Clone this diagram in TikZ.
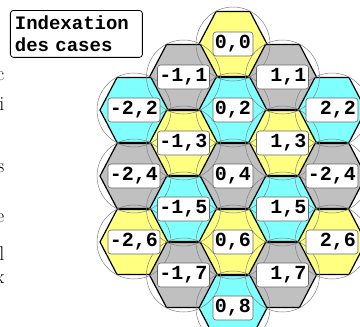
\documentclass[tikz,border=0pt]{standalone}
\usepackage{fontspec}
\setmonofont{Liberation Mono}
\definecolor{cellyellow}{RGB}{255,255,128}
\definecolor{cellcyan}{RGB}{128,255,255}
\definecolor{cellgray}{RGB}{192,192,192}

\begin{document}
\begin{tikzpicture}[x=1pt,y=-1pt]
        \tikzstyle{cell}=[draw=black, line width=1.2pt, line join=round]
        \tikzstyle{ring}=[draw=black!50, line width=0.5pt]
        \tikzstyle{tag}=[draw=black!60, fill=white, rounded corners=3pt, line width=0.6pt,
            font=\ttfamily\bfseries\fontsize{20}{22}\selectfont,
            inner xsep=2pt, inner ysep=1pt, minimum height=24pt]
        \tikzstyle{title}=[draw=black, fill=white, rounded corners=3pt, line width=0.8pt,
            align=left, text width=123pt, inner xsep=4.5pt, inner ysep=5.5pt,
            font=\ttfamily\bfseries\fontsize{19}{22}\selectfont]
        \tikzstyle{stray}=[anchor=base east, inner sep=0pt, font=\fontsize{20}{24}\selectfont]

        \useasboundingbox (0,0) rectangle (360,327);
        \clip (0,0) rectangle (360,327);

        \def\cells{0/0/cellyellow/{0,0}, -1/1/cellgray/{-1,1}, 1/1/cellgray/{\hphantom{-}1,1},
            -2/2/cellcyan/{-2,2}, 0/2/cellcyan/{0,2}, 2/2/cellcyan/{\hphantom{-}2,2},
            -1/3/cellyellow/{-1,3}, 1/3/cellyellow/{\hphantom{-}1,3},
            -2/4/cellgray/{-2,4}, 0/4/cellgray/{0,4}, 2/4/cellgray/{-2,4},
            -1/5/cellcyan/{-1,5}, 1/5/cellcyan/{\hphantom{-}1,5},
            -2/6/cellyellow/{-2,6}, 0/6/cellyellow/{0,6}, 2/6/cellyellow/{\hphantom{-}2,6},
            -1/7/cellgray/{-1,7}, 1/7/cellgray/{\hphantom{-}1,7},
            0/8/cellcyan/{0,8}}

        % Cell centres
        \foreach \i/\j/\col/\txt in \cells
            \coordinate (h\i\j) at (233+49.5*\i, 44+33*\j);

        % Hexagons
        \foreach \i/\j/\col/\txt in \cells
            \draw[cell, fill=\col] (h\i\j) ++(-34,0) -- ++(17,-32.5) -- ++(34,0)
                -- ++(17,32.5) -- ++(-17,32.5) -- ++(-34,0) -- cycle;

        % Circles round the cells
        \foreach \i/\j/\col/\txt in \cells
            \draw[ring] (h\i\j) circle[radius=37];

        % Indices
        \foreach \i/\j/\col/\txt in \cells
            \node[tag] (t\i\j) at (h\i\j) {\txt};

        \node[title, anchor=north west] (title) at (10,10) {Indexation\\des cases};

        % Ends of the text beside the figure
        \foreach \name/\y/\ch in {1/80/c, 2/110/i, 3/172/s, 4/222/e, 5/260/l, 6/283/x}
            \node[stray] (w\name) at (4.5,\y) {\ch};
\end{tikzpicture}
\end{document}
